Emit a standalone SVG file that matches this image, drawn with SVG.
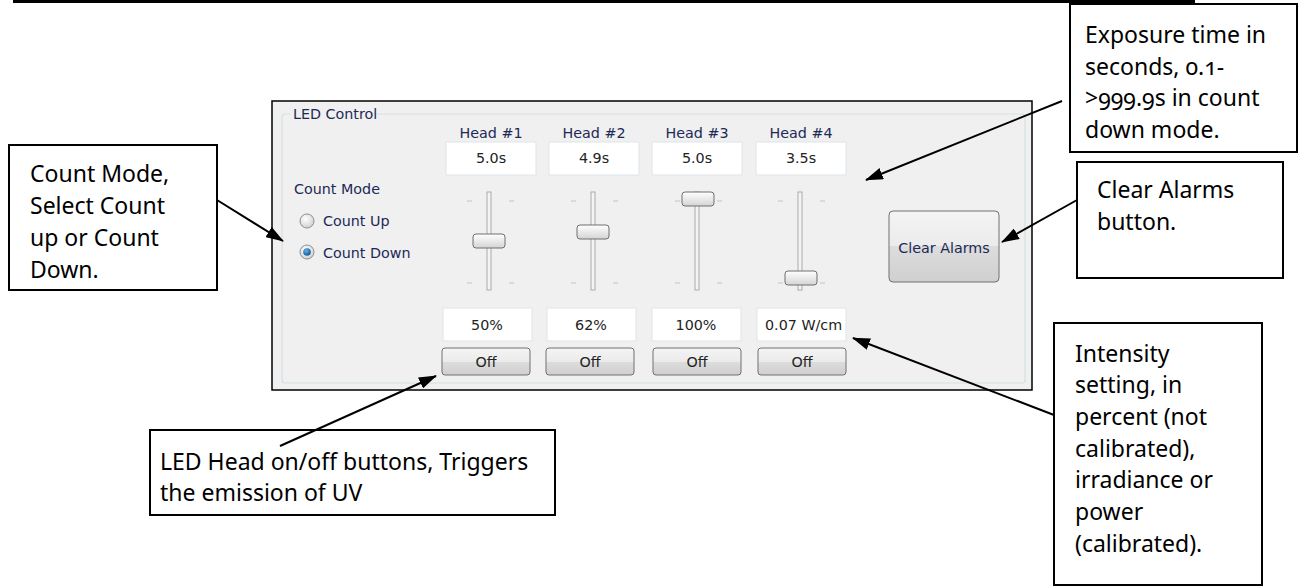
<svg xmlns="http://www.w3.org/2000/svg" width="1298" height="588" viewBox="0 0 1298 588">
<style>
.call{fill:#fff;stroke:#000;stroke-width:2}
.ct{font-family:"Noto Sans","Open Sans",sans-serif;font-size:23px;fill:#000}
.ui{font-family:"DejaVu Sans","Liberation Sans",sans-serif;font-size:14.3px}
.lbl{fill:#1c2957}
.val{fill:#222}
.fld{fill:#fff;stroke:#dfe5ea;stroke-width:1}
.btn{fill:url(#gbtn);stroke:#707070;stroke-width:1}
.trk{fill:#f4f4f4;stroke:#a9a9a9;stroke-width:1}
.tick{stroke:#c4c4c4;stroke-width:1}
.thumb{fill:url(#gthumb);stroke:#6f6f6f;stroke-width:1}
.conn{stroke:#000;stroke-width:2;fill:none;marker-end:url(#ah)}
</style>
<defs>
<marker id="ah" viewBox="0 0 18 12" refX="17" refY="6" markerWidth="18" markerHeight="12" markerUnits="userSpaceOnUse" orient="auto"><path d="M0,0 L18,6 L0,12 z" fill="#000"/></marker>
<linearGradient id="gbtn" x1="0" y1="0" x2="0" y2="1"><stop offset="0" stop-color="#f4f4f4"/><stop offset="0.5" stop-color="#ebebeb"/><stop offset="0.5" stop-color="#dddddd"/><stop offset="1" stop-color="#cfcfcf"/></linearGradient>
<linearGradient id="gthumb" x1="0" y1="0" x2="0" y2="1"><stop offset="0" stop-color="#ffffff"/><stop offset="1" stop-color="#d4d4d4"/></linearGradient>
<radialGradient id="gradio" cx="0.4" cy="0.35" r="0.7"><stop offset="0" stop-color="#ffffff"/><stop offset="1" stop-color="#cfcfcf"/></radialGradient>
<radialGradient id="gdot" cx="0.4" cy="0.35" r="0.7"><stop offset="0" stop-color="#5fb4ef"/><stop offset="1" stop-color="#0c4f8a"/></radialGradient>
</defs>

<rect x="0" y="0" width="1298" height="588" fill="#fff"/>
<line x1="13" y1="1.5" x2="1195" y2="1.5" stroke="#000" stroke-width="3"/>

<g id="panel">
<rect x="272" y="101" width="760" height="289" fill="#f0f0f0" stroke="#000" stroke-width="1.5"/>
<path d="M290,114 L285,114 Q282,114 282,117 L282,380 Q282,383 285,383 L1022,383 Q1025,383 1025,380 L1025,117 Q1025,114 1022,114 L370,114" fill="none" stroke="#d5dfe5" stroke-width="1.2"/>
<text class="ui lbl" x="293" y="119">LED Control</text>
<text class="ui lbl" x="294" y="194">Count Mode</text>
<circle cx="307" cy="221" r="7" fill="url(#gradio)" stroke="#8e8f8f"/>
<text class="ui lbl" x="323" y="226">Count Up</text>
<circle cx="307" cy="252" r="7" fill="url(#gradio)" stroke="#8e8f8f"/>
<circle cx="307" cy="252" r="3.8" fill="url(#gdot)"/>
<text class="ui lbl" x="323" y="258">Count Down</text>
</g>

<g id="head1">
<text class="ui lbl" x="491" y="138" text-anchor="middle">Head #1</text>
<rect class="fld" x="446" y="142" width="90" height="33"/>
<text class="ui val" x="491" y="163" text-anchor="middle">5.0s</text>
<line class="tick" x1="467" y1="201" x2="472" y2="201"/><line class="tick" x1="509" y1="201" x2="514" y2="201"/>
<line class="tick" x1="467" y1="283" x2="472" y2="283"/><line class="tick" x1="509" y1="283" x2="514" y2="283"/>
<rect class="trk" x="487" y="192" width="4" height="98"/>
<rect class="thumb" x="473" y="234" width="32" height="14" rx="3"/>
<rect class="fld" x="443" y="308" width="89" height="33"/>
<text class="ui val" x="487" y="330" text-anchor="middle">50%</text>
<rect class="btn" x="442" y="348" width="88" height="27" rx="3"/>
<text class="ui val" x="486" y="367" text-anchor="middle">Off</text>
</g>

<g id="head2">
<text class="ui lbl" x="594" y="138" text-anchor="middle">Head #2</text>
<rect class="fld" x="549" y="142" width="90" height="33"/>
<text class="ui val" x="594" y="163" text-anchor="middle">4.9s</text>
<line class="tick" x1="571" y1="201" x2="576" y2="201"/><line class="tick" x1="613" y1="201" x2="618" y2="201"/>
<line class="tick" x1="571" y1="283" x2="576" y2="283"/><line class="tick" x1="613" y1="283" x2="618" y2="283"/>
<rect class="trk" x="591" y="192" width="4" height="98"/>
<rect class="thumb" x="577" y="225" width="32" height="14" rx="3"/>
<rect class="fld" x="547" y="308" width="89" height="33"/>
<text class="ui val" x="591" y="330" text-anchor="middle">62%</text>
<rect class="btn" x="546" y="348" width="88" height="27" rx="3"/>
<text class="ui val" x="590" y="367" text-anchor="middle">Off</text>
</g>

<g id="head3">
<text class="ui lbl" x="697" y="138" text-anchor="middle">Head #3</text>
<rect class="fld" x="652" y="142" width="90" height="33"/>
<text class="ui val" x="697" y="163" text-anchor="middle">5.0s</text>
<line class="tick" x1="675" y1="201" x2="680" y2="201"/><line class="tick" x1="717" y1="201" x2="722" y2="201"/>
<line class="tick" x1="675" y1="283" x2="680" y2="283"/><line class="tick" x1="717" y1="283" x2="722" y2="283"/>
<rect class="trk" x="695" y="192" width="4" height="98"/>
<rect class="thumb" x="682" y="192" width="32" height="14" rx="3"/>
<rect class="fld" x="652" y="308" width="89" height="33"/>
<text class="ui val" x="696" y="330" text-anchor="middle">100%</text>
<rect class="btn" x="653" y="348" width="88" height="27" rx="3"/>
<text class="ui val" x="697" y="367" text-anchor="middle">Off</text>
</g>

<g id="head4">
<text class="ui lbl" x="801" y="138" text-anchor="middle">Head #4</text>
<rect class="fld" x="756" y="142" width="90" height="33"/>
<text class="ui val" x="801" y="163" text-anchor="middle">3.5s</text>
<line class="tick" x1="778" y1="201" x2="783" y2="201"/><line class="tick" x1="820" y1="201" x2="825" y2="201"/>
<line class="tick" x1="778" y1="283" x2="783" y2="283"/><line class="tick" x1="820" y1="283" x2="825" y2="283"/>
<rect class="trk" x="798" y="192" width="4" height="98"/>
<rect class="thumb" x="785" y="271" width="32" height="14" rx="3"/>
<rect class="fld" x="757" y="308" width="89" height="33"/>
<text class="ui val" x="765" y="330">0.07 W/cm</text>
<rect class="btn" x="758" y="348" width="88" height="27" rx="3"/>
<text class="ui val" x="802" y="367" text-anchor="middle">Off</text>
</g>

<g id="clearAlarmsButton">
<rect class="btn" x="889" y="211" width="110" height="71" rx="4"/>
<text class="ui lbl" x="944" y="253" text-anchor="middle">Clear Alarms</text>
</g>

<g id="calloutExposure">
<rect class="call" x="1070" y="4" width="227" height="148"/>
<text class="ct" x="1085" y="43" style="font-variant-numeric:oldstyle-nums">Exposure time in</text>
<text class="ct" x="1085" y="75" style="font-variant-numeric:oldstyle-nums">seconds, 0.1-</text>
<text class="ct" x="1085" y="106" style="font-variant-numeric:oldstyle-nums">&gt;999.9s in count</text>
<text class="ct" x="1085" y="138">down mode.</text>
</g>

<g id="calloutClear">
<rect class="call" x="1077" y="162" width="206" height="116"/>
<text class="ct" x="1097" y="198">Clear Alarms</text>
<text class="ct" x="1097" y="230">button.</text>
</g>

<g id="calloutCount">
<rect class="call" x="9" y="145" width="208" height="145"/>
<text class="ct" x="30" y="182">Count Mode,</text>
<text class="ct" x="30" y="214">Select Count</text>
<text class="ct" x="30" y="246">up or Count</text>
<text class="ct" x="30" y="278">Down.</text>
</g>

<g id="calloutLed">
<rect class="call" x="150" y="430" width="405" height="85"/>
<text class="ct" x="160" y="470">LED Head on/off buttons, Triggers</text>
<text class="ct" x="160" y="501">the emission of UV</text>
</g>

<g id="calloutIntensity">
<rect class="call" x="1054" y="323" width="208" height="262"/>
<text class="ct" x="1075" y="362">Intensity</text>
<text class="ct" x="1075" y="393">setting, in</text>
<text class="ct" x="1075" y="425">percent (not</text>
<text class="ct" x="1075" y="457">calibrated),</text>
<text class="ct" x="1075" y="488">irradiance or</text>
<text class="ct" x="1075" y="520">power</text>
<text class="ct" x="1075" y="552">(calibrated).</text>
</g>

<g id="connectors">
<line class="conn" x1="1062" y1="101" x2="866" y2="180"/>
<line class="conn" x1="1077" y1="200" x2="1002" y2="242"/>
<line class="conn" x1="217" y1="200" x2="283" y2="241"/>
<line class="conn" x1="280" y1="446" x2="436" y2="376"/>
<line class="conn" x1="1054" y1="415" x2="853" y2="338"/>
</g>
</svg>
